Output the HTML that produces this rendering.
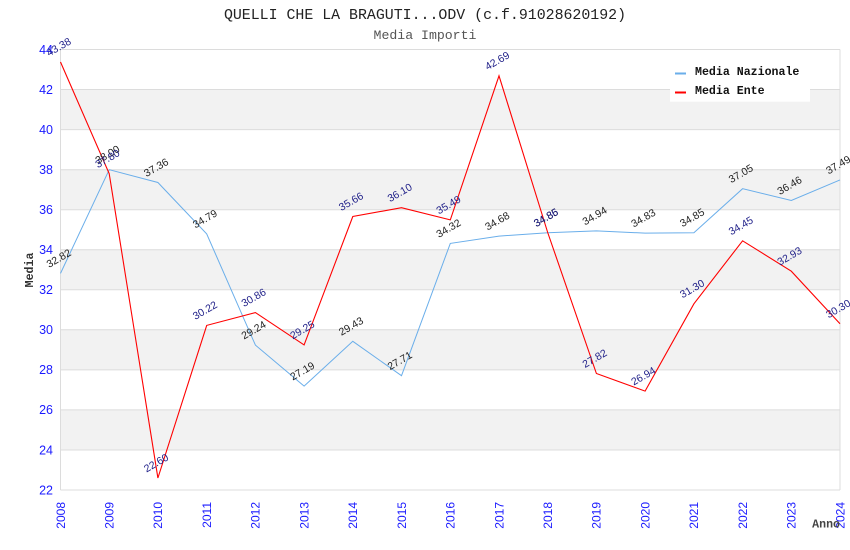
<!DOCTYPE html>
<html><head><meta charset="utf-8"><style>
html,body{margin:0;padding:0;background:#fff;}
svg{display:block;}
.t{font-family:"Liberation Mono","DejaVu Sans Mono",monospace;}
.s{font-family:"Liberation Sans","DejaVu Sans",sans-serif;}
</style></head><body>
<svg width="850" height="550" viewBox="0 0 850 550" xmlns="http://www.w3.org/2000/svg">
<rect width="850" height="550" fill="#fff"/>
<!-- title -->
<text class="t" x="425" y="19" text-anchor="middle" font-size="14.9" fill="#222">QUELLI CHE LA BRAGUTI...ODV (c.f.91028620192)</text>
<text class="t" x="425" y="39" text-anchor="middle" font-size="13.2" fill="#555">Media Importi</text>
<!-- bands -->
<g fill="#f2f2f2">
<rect x="60.5" y="89.5" width="779.5" height="40.1"/>
<rect x="60.5" y="169.7" width="779.5" height="40"/>
<rect x="60.5" y="249.8" width="779.5" height="40"/>
<rect x="60.5" y="329.8" width="779.5" height="40.1"/>
<rect x="60.5" y="409.9" width="779.5" height="40.1"/>
</g>
<g stroke="#dcdcdc" stroke-width="1">
<line x1="60.5" x2="840" y1="49.5" y2="49.5"/>
<line x1="60.5" x2="840" y1="89.5" y2="89.5"/>
<line x1="60.5" x2="840" y1="129.6" y2="129.6"/>
<line x1="60.5" x2="840" y1="169.7" y2="169.7"/>
<line x1="60.5" x2="840" y1="209.7" y2="209.7"/>
<line x1="60.5" x2="840" y1="249.8" y2="249.8"/>
<line x1="60.5" x2="840" y1="289.8" y2="289.8"/>
<line x1="60.5" x2="840" y1="329.8" y2="329.8"/>
<line x1="60.5" x2="840" y1="369.9" y2="369.9"/>
<line x1="60.5" x2="840" y1="409.9" y2="409.9"/>
<line x1="60.5" x2="840" y1="450" y2="450"/>
<line x1="60.5" x2="840" y1="490" y2="490"/>
<line x1="60.5" x2="60.5" y1="49.5" y2="490"/>
<line x1="840" x2="840" y1="49.5" y2="490"/>
</g>
<!-- y ticks -->
<g class="s" font-size="12.5" fill="#1a1aff" text-anchor="end">
<text x="53" y="54">44</text>
<text x="53" y="94">42</text>
<text x="53" y="134">40</text>
<text x="53" y="174">38</text>
<text x="53" y="214">36</text>
<text x="53" y="254">34</text>
<text x="53" y="294">32</text>
<text x="53" y="334">30</text>
<text x="53" y="374">28</text>
<text x="53" y="414">26</text>
<text x="53" y="454.5">24</text>
<text x="53" y="494.5">22</text>
</g>
<!-- x ticks -->
<g class="s" font-size="12" fill="#1a1aff" text-anchor="end">
<text transform="translate(64.8,502) rotate(-90)">2008</text>
<text transform="translate(113.5,502) rotate(-90)">2009</text>
<text transform="translate(162.2,502) rotate(-90)">2010</text>
<text transform="translate(211,502) rotate(-90)">2011</text>
<text transform="translate(259.7,502) rotate(-90)">2012</text>
<text transform="translate(308.4,502) rotate(-90)">2013</text>
<text transform="translate(357.1,502) rotate(-90)">2014</text>
<text transform="translate(405.8,502) rotate(-90)">2015</text>
<text transform="translate(454.6,502) rotate(-90)">2016</text>
<text transform="translate(503.3,502) rotate(-90)">2017</text>
<text transform="translate(552,502) rotate(-90)">2018</text>
<text transform="translate(600.7,502) rotate(-90)">2019</text>
<text transform="translate(649.4,502) rotate(-90)">2020</text>
<text transform="translate(698.2,502) rotate(-90)">2021</text>
<text transform="translate(746.9,502) rotate(-90)">2022</text>
<text transform="translate(795.6,502) rotate(-90)">2023</text>
<text transform="translate(844.3,502) rotate(-90)">2024</text>
</g>
<!-- axis titles -->
<text class="t" transform="translate(33,270) rotate(-90)" text-anchor="middle" font-size="11.6" font-weight="bold" fill="#333">Media</text>
<text class="t" x="840" y="527.5" text-anchor="end" font-size="11.6" font-weight="bold" fill="#444">Anno</text>
<!-- series -->
<polyline fill="none" stroke="#6aaeea" stroke-width="1" points="60.5,273.4 109.2,169.7 157.9,182.5 206.7,233.9 255.4,345.1 304.1,386.1 352.8,341.3 401.5,375.7 450.3,243.4 499,236.1 547.7,232.7 596.4,230.9 645.1,233.1 693.9,232.7 742.6,188.7 791.3,200.5 840,179.9"/>
<polyline fill="none" stroke="#ff0000" stroke-width="1.1" points="60.5,62 109.2,173.7 157.9,478 206.7,325.4 255.4,312.6 304.1,344.9 352.8,216.5 401.5,207.7 450.3,219.9 499,75.8 547.7,232.5 596.4,373.5 645.1,391.1 693.9,303.8 742.6,240.8 791.3,271.2 840,323.8"/>
<!-- labels nazionale -->
<g class="s" font-size="10.5" fill="#222" text-anchor="middle">
<text transform="translate(60.5,261.4) rotate(-30)">32.82</text>
<text transform="translate(109.2,157.7) rotate(-30)">38.00</text>
<text transform="translate(157.9,170.5) rotate(-30)">37.36</text>
<text transform="translate(206.7,221.9) rotate(-30)">34.79</text>
<text transform="translate(255.4,333.1) rotate(-30)">29.24</text>
<text transform="translate(304.1,374.1) rotate(-30)">27.19</text>
<text transform="translate(352.8,329.3) rotate(-30)">29.43</text>
<text transform="translate(401.5,363.7) rotate(-30)">27.71</text>
<text transform="translate(450.3,231.4) rotate(-30)">34.32</text>
<text transform="translate(499,224.1) rotate(-30)">34.68</text>
<text transform="translate(547.7,220.7) rotate(-30)">34.85</text>
<text transform="translate(596.4,218.9) rotate(-30)">34.94</text>
<text transform="translate(645.1,221.1) rotate(-30)">34.83</text>
<text transform="translate(693.9,220.7) rotate(-30)">34.85</text>
<text transform="translate(742.6,176.7) rotate(-30)">37.05</text>
<text transform="translate(791.3,188.5) rotate(-30)">36.46</text>
<text transform="translate(840,167.9) rotate(-30)">37.49</text>
</g>
<!-- labels ente -->
<g class="s" font-size="10.5" fill="#22228a" text-anchor="middle">
<text transform="translate(60.5,50) rotate(-30)">43.38</text>
<text transform="translate(109.2,161.7) rotate(-30)">37.80</text>
<text transform="translate(157.9,466) rotate(-30)">22.60</text>
<text transform="translate(206.7,313.4) rotate(-30)">30.22</text>
<text transform="translate(255.4,300.6) rotate(-30)">30.86</text>
<text transform="translate(304.1,332.9) rotate(-30)">29.25</text>
<text transform="translate(352.8,204.5) rotate(-30)">35.66</text>
<text transform="translate(401.5,195.7) rotate(-30)">36.10</text>
<text transform="translate(450.3,207.9) rotate(-30)">35.49</text>
<text transform="translate(499,63.8) rotate(-30)">42.69</text>
<text transform="translate(547.7,220.5) rotate(-30)">34.86</text>
<text transform="translate(596.4,361.5) rotate(-30)">27.82</text>
<text transform="translate(645.1,379.1) rotate(-30)">26.94</text>
<text transform="translate(693.9,291.8) rotate(-30)">31.30</text>
<text transform="translate(742.6,228.8) rotate(-30)">34.45</text>
<text transform="translate(791.3,259.2) rotate(-30)">32.93</text>
<text transform="translate(840,311.8) rotate(-30)">30.30</text>
</g>
<!-- legend -->
<rect x="670" y="58" width="140" height="43.7" fill="#fff"/>
<line x1="675" x2="686" y1="73.5" y2="73.5" stroke="#6aaeea" stroke-width="2"/>
<line x1="675" x2="686" y1="92.5" y2="92.5" stroke="#ff0000" stroke-width="2"/>
<g class="t" font-size="11.6" font-weight="bold" fill="#111">
<text x="695" y="75">Media Nazionale</text>
<text x="695" y="94">Media Ente</text>
</g>
</svg>
</body></html>
